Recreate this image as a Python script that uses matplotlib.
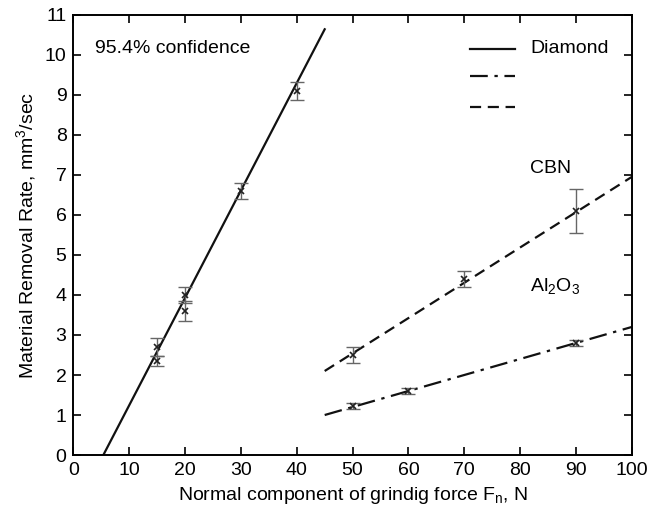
import matplotlib
matplotlib.use("Agg")
import matplotlib.pyplot as plt
import numpy as np

plt.rcParams['font.family'] = ['Liberation Sans Narrow', 'Liberation Sans', 'DejaVu Sans']

# measured points (force N, rate mm3/sec, +/- error)
dia_x = [15, 15, 20, 20, 30, 40]
dia_y = [2.7, 2.35, 4.0, 3.6, 6.6, 9.1]
dia_err = [0.22, 0.12, 0.2, 0.25, 0.2, 0.22]

cbn_x = [50, 70, 90]
cbn_y = [2.5, 4.4, 6.1]
cbn_err = [0.2, 0.2, 0.56]

al_x = [50, 60, 90]
al_y = [1.22, 1.6, 2.8]
al_err = [0.07, 0.08, 0.07]

# fitted lines (end points)
dia_line_x = [5.35, 45]
dia_line_y = [0.0, 10.64]
cbn_line_x = [45, 100]
cbn_line_y = [2.1, 6.95]
al_line_x = [45, 100]
al_line_y = [1.0, 3.2]

fig = plt.figure(figsize=(6.56, 5.13), dpi=100)
ax = fig.add_axes([0.112, 0.113, 0.851, 0.858])

ax.plot(dia_line_x, dia_line_y, color='#111111', lw=1.6, ls='-')
ax.plot(cbn_line_x, cbn_line_y, color='#111111', lw=1.6, ls=(0, (5, 3)))
ax.plot(al_line_x, al_line_y, color='#111111', lw=1.6, ls=(0, (8, 3, 1.5, 3)))

for xs, ys, es in [(dia_x, dia_y, dia_err), (cbn_x, cbn_y, cbn_err), (al_x, al_y, al_err)]:
    ax.errorbar(xs, ys, yerr=es, fmt='none', ecolor='#666666', elinewidth=1.0,
                capsize=5, capthick=1.0)
    ax.plot(xs, ys, ls='none', marker='x', ms=5, mew=1.2, color='#222222')

# legend drawn by hand inside the axes
ax.plot([71.1, 79.1], [10.15, 10.15], color='#111111', lw=1.6, ls='-')
ax.plot([71.1, 79.1], [9.46, 9.46], color='#111111', lw=1.6, ls=(0, (8, 3, 1.5, 3)))
ax.plot([71.1, 79.1], [8.69, 8.69], color='#111111', lw=1.6, ls=(0, (5, 3)))
ax.text(81.8, 10.15, 'Diamond', fontsize=14, va='center')
ax.text(81.8, 7.15, 'CBN', fontsize=14, va='center')
ax.text(81.8, 4.2, 'Al$_\\mathregular{2}$O$_\\mathregular{3}$', fontsize=14, va='center')
ax.text(3.9, 10.15, '95.4% confidence', fontsize=14, va='center')

ax.set_xlim(0, 100)
ax.set_ylim(0, 11)
ax.set_xticks(np.arange(0, 101, 10))
ax.set_yticks(np.arange(0, 12, 1))
ax.tick_params(direction='in', top=True, right=True, length=6, width=1.2,
               labelsize=14, pad=5)
for s in ax.spines.values():
    s.set_linewidth(1.4)

ax.set_xlabel('Normal component of grindig force F$_\\mathregular{n}$, N', fontsize=14)
ax.set_ylabel('Material Removal Rate, mm$^\\mathregular{3}$/sec', fontsize=14)

fig.savefig('out.png', dpi=100)
